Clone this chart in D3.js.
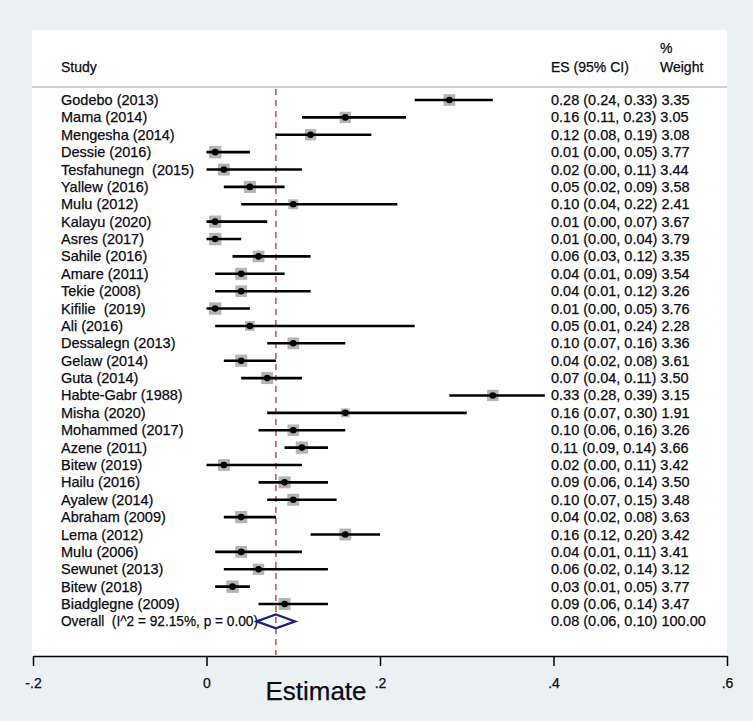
<!DOCTYPE html>
<html><head><meta charset="utf-8">
<script src="https://cdn.jsdelivr.net/npm/d3@7"></script>
<style>
html,body{margin:0;padding:0;background:#e9f1f3;}
svg{display:block;font-family:Arial,"Liberation Sans",sans-serif;}
.t{fill:#0a0a14;stroke:#0a0a14;stroke-width:0.25px;}
</style></head>
<body><svg id="c" width="753" height="721"></svg>
<script>
const studies = ["Godebo (2013)","Mama (2014)","Mengesha (2014)","Dessie (2016)","Tesfahunegn  (2015)","Yallew (2016)","Mulu (2012)","Kalayu (2020)","Asres (2017)","Sahile (2016)","Amare (2011)","Tekie (2008)","Kifilie  (2019)","Ali (2016)","Dessalegn (2013)","Gelaw (2014)","Guta (2014)","Habte-Gabr (1988)","Misha (2020)","Mohammed (2017)","Azene (2011)","Bitew (2019)","Hailu (2016)","Ayalew (2014)","Abraham (2009)","Lema (2012)","Mulu (2006)","Sewunet (2013)","Bitew (2018)","Biadglegne (2009)"];
const es     = [0.28,0.16,0.12,0.01,0.02,0.05,0.10,0.01,0.01,0.06,0.04,0.04,0.01,0.05,0.10,0.04,0.07,0.33,0.16,0.10,0.11,0.02,0.09,0.10,0.04,0.16,0.04,0.06,0.03,0.09];
const lower  = [0.24,0.11,0.08,0.00,0.00,0.02,0.04,0.00,0.00,0.03,0.01,0.01,0.00,0.01,0.07,0.02,0.04,0.28,0.07,0.06,0.09,0.00,0.06,0.07,0.02,0.12,0.01,0.02,0.01,0.06];
const upper  = [0.33,0.23,0.19,0.05,0.11,0.09,0.22,0.07,0.04,0.12,0.09,0.12,0.05,0.24,0.16,0.08,0.11,0.39,0.30,0.16,0.14,0.11,0.14,0.15,0.08,0.20,0.11,0.14,0.05,0.14];
const weight = [3.35,3.05,3.08,3.77,3.44,3.58,2.41,3.67,3.79,3.35,3.54,3.26,3.76,2.28,3.36,3.61,3.50,3.15,1.91,3.26,3.66,3.42,3.50,3.48,3.63,3.42,3.41,3.12,3.77,3.47];
const overallLabel = "Overall  (I^2 = 92.15%, p = 0.00)";
const overall = {es:0.08, lo:0.06, hi:0.10, w:100.00};
const tickVals = [-0.2,0,0.2,0.4,0.6];
const tickLabels = ["-.2","0",".2",".4",".6"];

const svg = d3.select("#c");
const x = d3.scaleLinear().domain([-0.2,0.6]).range([33,727]);
const y = d3.scaleLinear().domain([0,30]).range([100,621.4]);
const side = d3.scaleSqrt().domain([0,1]).range([0,6.4]);

// white panel
svg.append("rect").attr("x",32).attr("y",30).attr("width",695).attr("height",626).attr("fill","#ffffff");
// header
const hf = "14px";
svg.append("text").attr("class","t").attr("x",61).attr("y",72).attr("font-size",hf).text("Study");
svg.append("text").attr("class","t").attr("x",551).attr("y",72).attr("font-size",hf).text("ES (95% CI)");
svg.append("text").attr("class","t").attr("x",660).attr("y",53).attr("font-size",hf).text("%");
svg.append("text").attr("class","t").attr("x",660).attr("y",72).attr("font-size",hf).text("Weight");
svg.append("line").attr("x1",32).attr("x2",727).attr("y1",87).attr("y2",87).attr("stroke","#d0d0d0").attr("stroke-width",2);

// dashed overall line
svg.append("line").attr("x1",x(overall.es)).attr("x2",x(overall.es)).attr("y1",89).attr("y2",655)
  .attr("stroke","#a33a3a").attr("stroke-width",1.3).attr("stroke-dasharray","6,5");

const rows = studies.map((s,i)=>({s,es:es[i],lo:lower[i],hi:upper[i],w:weight[i],i}));
const g = svg.append("g");
// boxes
g.selectAll("rect.box").data(rows).join("rect").attr("class","box")
  .attr("x",d=>x(d.es)-side(d.w)/2).attr("y",d=>y(d.i)-side(d.w)/2)
  .attr("width",d=>side(d.w)).attr("height",d=>side(d.w)).attr("fill","#b4b4b4");
// CI lines
g.selectAll("line.ci").data(rows).join("line").attr("class","ci")
  .attr("x1",d=>x(d.lo)).attr("x2",d=>x(d.hi)).attr("y1",d=>y(d.i)).attr("y2",d=>y(d.i))
  .attr("stroke","#000").attr("stroke-width",2.6);
// point markers
g.selectAll("circle.pt").data(rows).join("circle").attr("class","pt")
  .attr("cx",d=>x(d.es)).attr("cy",d=>y(d.i)).attr("r",3.3).attr("fill","#000");

// labels
const rf = "14.5px";
g.selectAll("text.lab").data(rows).join("text").attr("class","lab t")
  .attr("x",61).attr("y",d=>y(d.i)+5).attr("font-size",rf)
  .style("white-space","pre").text(d=>d.s);
g.selectAll("text.est").data(rows).join("text").attr("class","est t")
  .attr("x",551).attr("y",d=>y(d.i)+5).attr("font-size",rf)
  .text(d=>`${d.es.toFixed(2)} (${d.lo.toFixed(2)}, ${d.hi.toFixed(2)}) ${d.w.toFixed(2)}`);

// overall
const oy = y(30);
svg.append("text").attr("class","t").attr("x",61).attr("y",oy+5).attr("font-size",rf)
  .attr("textLength",197).attr("lengthAdjust","spacingAndGlyphs")
  .style("white-space","pre").text(overallLabel);
svg.append("text").attr("class","t").attr("x",551).attr("y",oy+5).attr("font-size",rf)
  .text(`${overall.es.toFixed(2)} (${overall.lo.toFixed(2)}, ${overall.hi.toFixed(2)}) ${overall.w.toFixed(2)}`);
svg.append("path")
  .attr("d",`M${x(overall.lo)-2},${oy} L${x(overall.es)},${oy-7} L${x(overall.hi)+2},${oy} L${x(overall.es)},${oy+7} Z`)
  .attr("fill","none").attr("stroke","#1a237e").attr("stroke-width",2.2);

// axis
const ax = svg.append("g").attr("transform","translate(0,656)")
  .call(d3.axisBottom(x).tickValues(tickVals).tickFormat((d,i)=>tickLabels[i]).tickSize(10).tickSizeOuter(0));
ax.select(".domain").attr("stroke","#000").attr("stroke-width",1.5);
ax.selectAll(".tick line").attr("stroke","#000").attr("stroke-width",1.5);
ax.selectAll(".tick text").attr("class","t").attr("font-size","14px").attr("dy","0").attr("y",32)
  .attr("font-family","Arial,'Liberation Sans',sans-serif");
svg.append("text").attr("class","t").attr("x",316).attr("y",700).attr("text-anchor","middle").attr("font-size","25px")
  .attr("textLength",101).attr("lengthAdjust","spacingAndGlyphs").text("Estimate");
</script></body></html>
